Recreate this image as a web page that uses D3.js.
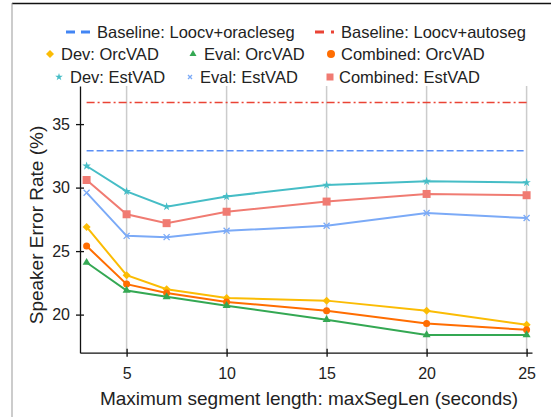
<!DOCTYPE html>
<html>
<head>
<meta charset="utf-8">
<script src="https://cdn.jsdelivr.net/npm/d3@7"></script>
<style>
    body { margin: 0; background: #fff; }
    text { font-family: "Liberation Sans", Arial, sans-serif; fill: #222; }
</style>
</head>
<body>
<div class="main"></div>
<script>
const segLens = [3, 5, 7, 10, 15, 20, 25];
const devOrc = [26.9, 23.1, 22.0, 21.3, 21.1, 20.3, 19.2];
const evalOrc = [24.1, 21.9, 21.4, 20.7, 19.6, 18.4, 18.4];
const combOrc = [25.4, 22.4, 21.7, 21.0, 20.3, 19.3, 18.8];
const devEst = [31.7, 29.7, 28.5, 29.3, 30.2, 30.5, 30.4];
const evalEst = [29.6, 26.2, 26.1, 26.6, 27.0, 28.0, 27.6];
const combEst = [30.6, 27.9, 27.2, 28.1, 28.9, 29.5, 29.4];
const oracleBaseline = 32.9;
const autoBaseline = 36.7;
const xTicks = [5, 10, 15, 20, 25];
const yTicks = [20, 25, 30, 35];

const width = 551, height = 417;

const svg = d3.select(".main").append("svg")
    .attr("width", width)
    .attr("height", height);

// frame left over from the screenshot
svg.append("line")
    .attr("x1", 12).attr("x2", width).attr("y1", 3.5).attr("y2", 3.5)
    .attr("stroke", "#111").attr("stroke-width", 1.5);
svg.append("line")
    .attr("x1", 12).attr("x2", 12).attr("y1", 3).attr("y2", height)
    .attr("stroke", "#999").attr("stroke-width", 1);

const x = d3.scaleLinear().domain([2.67, 25.27]).range([80, 532]);
const y = d3.scaleLinear().domain([17, 38]).range([352.7, 86]);

// vertical grid
svg.append("g")
    .selectAll("line")
    .data(xTicks)
    .enter().append("line")
    .attr("x1", d => x(d)).attr("x2", d => x(d))
    .attr("y1", y(38)).attr("y2", y(17))
    .attr("stroke", "#cccccc").attr("stroke-width", 1.5);

// baselines
const baselines = [
    { value: oracleBaseline, color: "#5b8ff5", dash: "7,3" },
    { value: autoBaseline, color: "#ea4335", dash: "8,3,2,3" }
];
svg.append("g")
    .selectAll("line")
    .data(baselines)
    .enter().append("line")
    .attr("x1", x(segLens[0])).attr("x2", x(segLens[segLens.length - 1]))
    .attr("y1", d => y(d.value)).attr("y2", d => y(d.value))
    .attr("stroke", d => d.color)
    .attr("stroke-width", 1.5)
    .attr("stroke-dasharray", d => d.dash);

const series = [
    { name: "Dev: EstVAD", values: devEst, color: "#46bdc6", shape: "star" },
    { name: "Combined: EstVAD", values: combEst, color: "#f07b72", shape: "square" },
    { name: "Eval: EstVAD", values: evalEst, color: "#7baaf7", shape: "x" },
    { name: "Dev: OrcVAD", values: devOrc, color: "#fbbc04", shape: "diamond" },
    { name: "Combined: OrcVAD", values: combOrc, color: "#ff6d01", shape: "circle" },
    { name: "Eval: OrcVAD", values: evalOrc, color: "#34a853", shape: "triangle" }
];

// shape -> d3 symbol with a width in px
const symbolPath = function (shape, w) {
    if (shape === "star") return d3.symbol(d3.symbolStar, Math.pow(w / 2, 2) / 0.8908)();
    if (shape === "square") return d3.symbol(d3.symbolSquare, w * w)();
    if (shape === "diamond") return d3.symbol(d3.symbolSquare, w * w / 2)();
    if (shape === "circle") return d3.symbol(d3.symbolCircle, Math.PI * w * w / 4)();
    if (shape === "triangle") return d3.symbol(d3.symbolTriangle, Math.sqrt(3) / 4 * w * w)();
    return d3.symbol(d3.symbolX, Math.pow(w / 1.2378, 2) + 1.7)();
};

const drawMarker = function (g, shape, color, w) {
    const p = g.append("path")
        .attr("d", symbolPath(shape, w));
    if (shape === "x") {
        p.attr("fill", "none").attr("stroke", color).attr("stroke-width", 1.3);
    } else {
        p.attr("fill", color);
    }
    if (shape === "diamond") p.attr("transform", "rotate(45)");
    return p;
};

const line = d3.line()
    .x((d, i) => x(segLens[i]))
    .y(d => y(d));

const markerWidth = { star: 9, square: 8, x: 6, diamond: 8, circle: 7, triangle: 8 };

series.forEach(s => {
    const g = svg.append("g").attr("class", "series");
    g.append("path")
        .attr("d", line(s.values))
        .attr("fill", "none")
        .attr("stroke", s.color)
        .attr("stroke-width", 2);
    s.values.forEach((v, i) => {
        const m = g.append("g")
            .attr("transform", "translate(" + x(segLens[i]) + "," + y(v) + ")");
        drawMarker(m, s.shape, s.color, markerWidth[s.shape]);
    });
});

// axes with ticks crossing the line
const xAxis = svg.append("g")
    .attr("transform", "translate(0," + y(17) + ")")
    .call(d3.axisBottom(x).tickValues(xTicks).tickSize(4).tickSizeOuter(0));
xAxis.select(".domain").attr("stroke", "#111").attr("stroke-width", 1.3);
xAxis.selectAll(".tick line").attr("y1", -4).attr("stroke", "#111").attr("stroke-width", 1.3);
xAxis.selectAll(".tick text")
    .attr("y", 15)
    .style("font-size", "16px")
    .style("font-family", "Liberation Sans, Arial, sans-serif")
    .attr("fill", "#222");

const yAxis = svg.append("g")
    .attr("transform", "translate(" + x(2.67) + ",0)")
    .call(d3.axisLeft(y).tickValues(yTicks).tickSize(4).tickSizeOuter(0));
yAxis.select(".domain").attr("stroke", "#111").attr("stroke-width", 1.3);
yAxis.selectAll(".tick line").attr("x1", 4).attr("stroke", "#111").attr("stroke-width", 1.3);
yAxis.selectAll(".tick text")
    .attr("x", -10)
    .style("font-size", "16px")
    .style("font-family", "Liberation Sans, Arial, sans-serif")
    .attr("fill", "#222");

svg.append("text")
    .attr("x", 309)
    .attr("y", 405)
    .attr("text-anchor", "middle")
    .style("font-size", "19px")
    .text("Maximum segment length: maxSegLen (seconds)");

svg.append("text")
    .attr("transform", "translate(43,225) rotate(-90)")
    .attr("text-anchor", "middle")
    .style("font-size", "19px")
    .text("Speaker Error Rate (%)");

// legend
const legendLines = [
    { name: "Baseline: Loocv+oracleseg", color: "#4285f4", dash: "9,6", x1: 66, x2: 91, tx: 97, y: 32 },
    { name: "Baseline: Loocv+autoseg", color: "#ea4335", dash: "9,7,3,20", x1: 315, x2: 334, tx: 341, y: 32 }
];
const legendMarks = [
    { name: "Dev: OrcVAD", color: "#fbbc04", shape: "diamond", w: 8, mx: 50, tx: 61, y: 54 },
    { name: "Eval: OrcVAD", color: "#34a853", shape: "triangle", w: 7, mx: 193, tx: 204, y: 54 },
    { name: "Combined: OrcVAD", color: "#ff6d01", shape: "circle", w: 8, mx: 331, tx: 341, y: 54 },
    { name: "Dev: EstVAD", color: "#46bdc6", shape: "star", w: 8, mx: 59, tx: 70, y: 77 },
    { name: "Eval: EstVAD", color: "#7baaf7", shape: "x", w: 4, mx: 190, tx: 200, y: 77 },
    { name: "Combined: EstVAD", color: "#f07b72", shape: "square", w: 7, mx: 330, tx: 339, y: 77 }
];

const legend = svg.append("g").attr("class", "legend");
legendLines.forEach(d => {
    legend.append("line")
        .attr("x1", d.x1).attr("x2", d.x2).attr("y1", d.y).attr("y2", d.y)
        .attr("stroke", d.color).attr("stroke-width", 3)
        .attr("stroke-dasharray", d.dash);
    legend.append("text")
        .attr("x", d.tx).attr("y", d.y)
        .attr("dy", ".35em")
        .style("font-size", "16.5px")
        .text(d.name);
});
legendMarks.forEach(d => {
    const m = legend.append("g")
        .attr("transform", "translate(" + d.mx + "," + d.y + ")");
    drawMarker(m, d.shape, d.color, d.w);
    legend.append("text")
        .attr("x", d.tx).attr("y", d.y)
        .attr("dy", ".35em")
        .style("font-size", "16.5px")
        .text(d.name);
});
</script>
</body>
</html>
